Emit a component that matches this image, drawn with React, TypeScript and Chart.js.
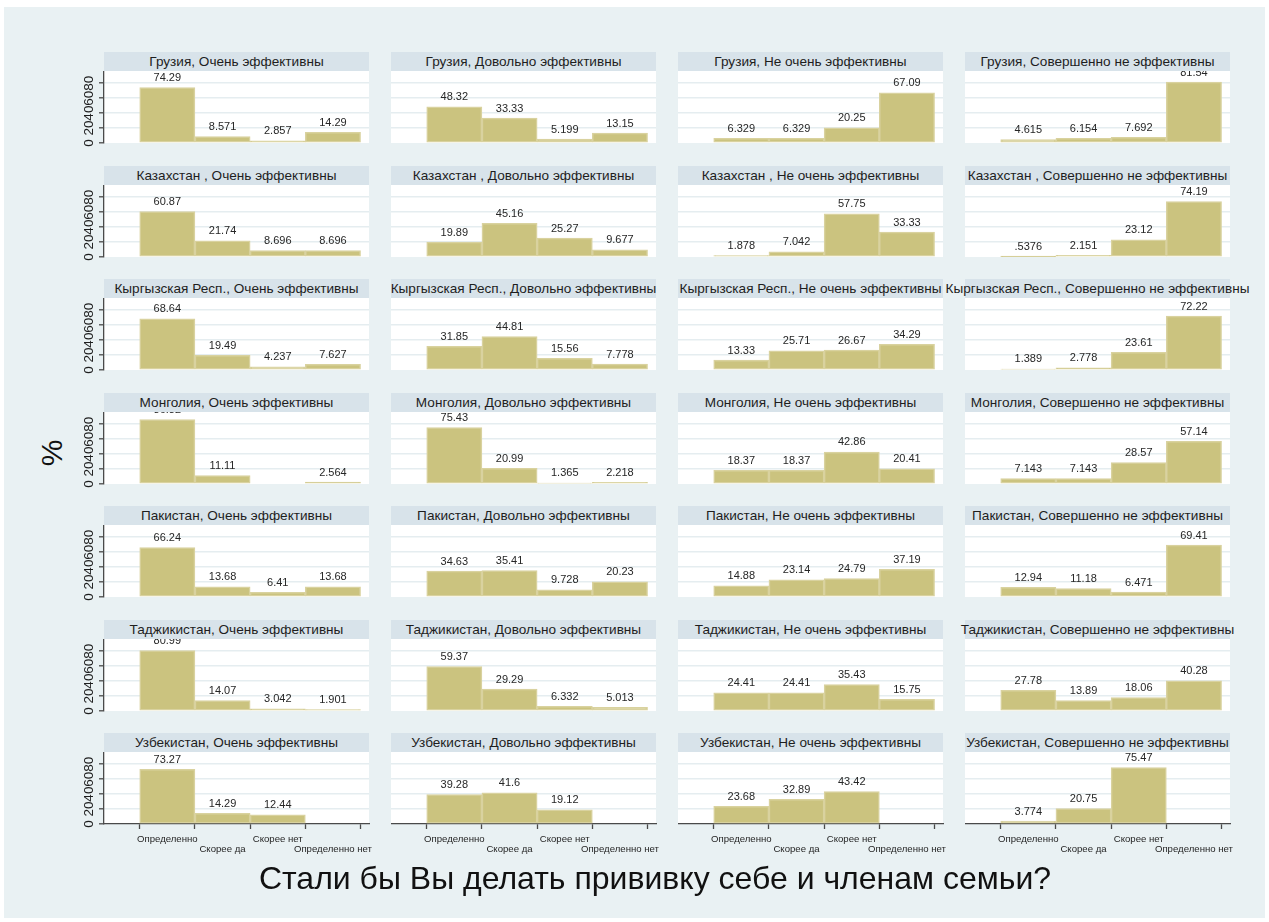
import React, { useEffect, useRef } from "react";
import { Chart, registerables } from "chart.js";

Chart.register(...registerables);

const FONT = "'Liberation Sans', Arial, Helvetica, sans-serif";

// Facets: one row per country, one column per opinion on vaccine effectiveness
const countries = ["Грузия", "Казахстан ", "Кыргызская Респ.", "Монголия", "Пакистан", "Таджикистан", "Узбекистан"];
const effectiveness = ["Очень эффективны", "Довольно эффективны", "Не очень эффективны", "Совершенно не эффективны"];
const answers = ["Определенно", "Скорее да", "Скорее нет", "Определенно нет"];
const yTicks = [0, 20, 40, 60, 80];

// Share of each answer (%), one line per effectiveness group; null = no respondents
const georgia = [
  [74.29, 8.571, 2.857, 14.29],
  [48.32, 33.33, 5.199, 13.15],
  [6.329, 6.329, 20.25, 67.09],
  [4.615, 6.154, 7.692, 81.54],
];
const kazakhstan = [
  [60.87, 21.74, 8.696, 8.696],
  [19.89, 45.16, 25.27, 9.677],
  [1.878, 7.042, 57.75, 33.33],
  [0.5376, 2.151, 23.12, 74.19],
];
const kyrgyzstan = [
  [68.64, 19.49, 4.237, 7.627],
  [31.85, 44.81, 15.56, 7.778],
  [13.33, 25.71, 26.67, 34.29],
  [1.389, 2.778, 23.61, 72.22],
];
const mongolia = [
  [86.32, 11.11, null, 2.564],
  [75.43, 20.99, 1.365, 2.218],
  [18.37, 18.37, 42.86, 20.41],
  [7.143, 7.143, 28.57, 57.14],
];
const pakistan = [
  [66.24, 13.68, 6.41, 13.68],
  [34.63, 35.41, 9.728, 20.23],
  [14.88, 23.14, 24.79, 37.19],
  [12.94, 11.18, 6.471, 69.41],
];
const tajikistan = [
  [80.99, 14.07, 3.042, 1.901],
  [59.37, 29.29, 6.332, 5.013],
  [24.41, 24.41, 35.43, 15.75],
  [27.78, 13.89, 18.06, 40.28],
];
const uzbekistan = [
  [73.27, 14.29, 12.44, null],
  [39.28, 41.6, 19.12, null],
  [23.68, 32.89, 43.42, null],
  [3.774, 20.75, 75.47, null],
];
const byCountry = [georgia, kazakhstan, kyrgyzstan, mongolia, pakistan, tajikistan, uzbekistan];

// Colours
const BG = "#e9f1f3";
const HEADER_BG = "#d8e3ea";
const GRID = "#e5edf0";
const AXIS = "#4a4a4a";
const BAR_FILL = "#cbc37f";
const BAR_EDGE = "#d9d29f";
const TEXT = "#1e1e1e";

// Layout of the facet grid
const COL_X = [104, 391, 678, 965];
const PANEL_W = 265;
const HEADER_H = 19;
const PLOT_H = 72;
const rowTop = (r: number) => Math.round(52 + 113.5 * r);
const Y_AXIS_W = 30;
const X_AXIS_H = 44;
const RIGHT_PAD = 14;
const LABEL_ROOM = 8;
const X_MIN = -0.147;
const X_MAX = 4.653;
const Y_MAX = 96.4;

const fmt = (v: number) => String(v).replace(/^0\./, ".");

const plotBackground = {
  id: "plotBackground",
  beforeDraw(chart: any) {
    const { ctx, chartArea: a } = chart;
    ctx.save();
    ctx.fillStyle = "#ffffff";
    ctx.fillRect(a.left, a.top, a.right - a.left, a.bottom - a.top);
    ctx.restore();
  },
};

const valueLabels = {
  id: "valueLabels",
  afterDatasetsDraw(chart: any) {
    const { ctx } = chart;
    const meta = chart.getDatasetMeta(0);
    const points = chart.data.datasets[0].data as { x: number; y: number | null }[];
    ctx.save();
    ctx.font = `11px ${FONT}`;
    ctx.fillStyle = "#262626";
    ctx.textAlign = "center";
    ctx.textBaseline = "alphabetic";
    meta.data.forEach((bar: any, i: number) => {
      const v = points[i].y;
      if (v == null) return;
      ctx.fillText(fmt(v), bar.x, bar.y - 6.5);
    });
    ctx.restore();
  },
};

// Vertical (rotated) tick labels for the left-hand axis
const rotatedYLabels = {
  id: "rotatedYLabels",
  afterDraw(chart: any) {
    const { ctx, chartArea } = chart;
    const y = chart.scales.y;
    ctx.save();
    ctx.font = `13.5px ${FONT}`;
    ctx.fillStyle = TEXT;
    ctx.textAlign = "center";
    ctx.textBaseline = "alphabetic";
    yTicks.forEach((t) => {
      const py = y.getPixelForValue(t);
      ctx.save();
      ctx.translate(chartArea.left - 10.7, py);
      ctx.rotate(-Math.PI / 2);
      ctx.fillText(String(t), 0, 0);
      ctx.restore();
    });
    ctx.restore();
  },
};

function Panel({ row, col }: { row: number; col: number }) {
  const ref = useRef<HTMLCanvasElement | null>(null);
  const isLeft = col === 0;
  const isBottom = row === countries.length - 1;
  const leftExtra = isLeft ? Y_AXIS_W : 0;
  const rightExtra = isBottom ? RIGHT_PAD : 0;
  const bottomPad = !isBottom && isLeft ? LABEL_ROOM : 0;
  const bottomExtra = isBottom ? X_AXIS_H : bottomPad;
  const top = rowTop(row);
  const w = PANEL_W + leftExtra + rightExtra;
  const h = PLOT_H + bottomExtra;
  const values = byCountry[row][col];

  useEffect(() => {
    if (!ref.current) return;
    const chart = new Chart(ref.current, {
      type: "bar",
      data: {
        datasets: [
          {
            data: values.map((v, i) => ({ x: i + 1, y: v })),
            backgroundColor: BAR_FILL,
            borderColor: BAR_EDGE,
            borderWidth: 1.5,
            borderSkipped: false,
            barPercentage: 1,
            categoryPercentage: 1,
          } as any,
        ],
      },
      options: {
        animation: false,
        responsive: false,
        events: [],
        layout: { padding: { left: 0, right: rightExtra, top: 0, bottom: bottomPad } },
        plugins: {
          legend: { display: false },
          tooltip: { enabled: false },
          title: { display: false },
        },
        scales: {
          x: {
            type: "linear",
            min: X_MIN,
            max: X_MAX,
            offset: false,
            display: isBottom,
            afterBuildTicks: (s: any) => {
              s.ticks = answers.map((_, i) => ({ value: i + 1 }));
            },
            afterFit: (s: any) => {
              s.paddingLeft = 0;
              s.paddingRight = 0;
              s.height = isBottom ? X_AXIS_H : 0;
            },
            border: { display: true, color: AXIS, width: 1.3 },
            grid: {
              drawOnChartArea: false,
              drawTicks: true,
              tickLength: 5,
              tickColor: AXIS,
              tickWidth: 1.3,
            },
            ticks: {
              autoSkip: false,
              maxRotation: 0,
              minRotation: 0,
              padding: 5,
              color: "#262626",
              font: { family: FONT, size: 9.6, lineHeight: 1.1 },
              callback: (value: any) => {
                const i = Math.round(Number(value)) - 1;
                const t = answers[i];
                if (!t) return "";
                return i % 2 === 1 ? ["", t] : t;
              },
            },
          } as any,
          y: {
            type: "linear",
            min: 0,
            max: Y_MAX,
            afterBuildTicks: (s: any) => {
              s.ticks = yTicks.map((v) => ({ value: v }));
            },
            afterFit: (s: any) => {
              s.width = leftExtra;
              s.paddingTop = 0;
              s.paddingBottom = 0;
            },
            border: { display: isLeft, color: AXIS, width: 1.3 },
            grid: {
              color: (c: any) => (c.tick && c.tick.value === 0 ? "rgba(0,0,0,0)" : GRID),
              lineWidth: 1.6,
              drawTicks: isLeft,
              tickLength: 5,
              tickColor: AXIS,
              tickWidth: 1.3,
            },
            ticks: { display: false },
          } as any,
        },
      },
      plugins: isLeft ? [plotBackground, valueLabels, rotatedYLabels] : [plotBackground, valueLabels],
    });
    return () => chart.destroy();
  }, [row, col]);

  return (
    <>
      <div
        style={{
          position: "absolute",
          left: COL_X[col],
          top,
          width: PANEL_W,
          height: HEADER_H,
          background: HEADER_BG,
          display: "flex",
          justifyContent: "center",
          alignItems: "center",
          whiteSpace: "nowrap",
          fontFamily: FONT,
          fontSize: 13.6,
          lineHeight: `${HEADER_H}px`,
          color: TEXT,
        }}
      >
        <span>{`${countries[row]}, ${effectiveness[col]}`}</span>
      </div>
      <canvas
        ref={ref}
        width={w}
        height={h}
        style={{
          position: "absolute",
          left: COL_X[col] - leftExtra,
          top: top + HEADER_H,
          width: w,
          height: h,
        }}
      />
    </>
  );
}

export default function App() {
  return (
    <div
      style={{
        position: "absolute",
        left: 0,
        top: 0,
        width: 1269,
        height: 922,
        background: "#ffffff",
        overflow: "hidden",
        fontFamily: FONT,
      }}
    >
      <div style={{ position: "absolute", left: 4, top: 7, width: 1261, height: 911, background: BG }} />
      {countries.map((_, r) =>
        effectiveness.map((__, k) => <Panel key={`${r}-${k}`} row={r} col={k} />)
      )}
      <div
        style={{
          position: "absolute",
          left: 52,
          top: 453,
          transform: "translate(-50%, -50%) rotate(-90deg)",
          fontSize: 30,
          lineHeight: "30px",
          color: "#111",
          whiteSpace: "nowrap",
        }}
      >
        %
      </div>
      <div
        style={{
          position: "absolute",
          left: 655,
          top: 862,
          transform: "translateX(-50%)",
          fontSize: 32,
          lineHeight: "32px",
          color: "#111",
          whiteSpace: "nowrap",
        }}
      >
        Стали бы Вы делать прививку себе и членам семьи?
      </div>
    </div>
  );
}
